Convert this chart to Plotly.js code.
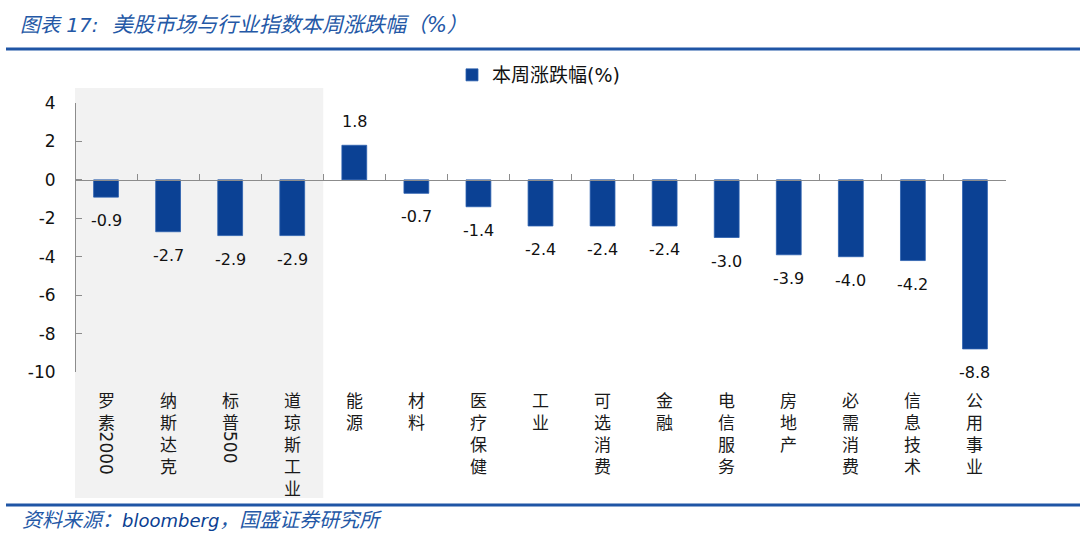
<!DOCTYPE html>
<html>
<head>
<meta charset="utf-8">
<script src="https://cdn.plot.ly/plotly-3.0.1.min.js"></script>
<style>html,body{margin:0;padding:0;background:#fff;}#chart{width:1080px;height:551px;}</style>
</head>
<body>
<div id="chart"></div>
<script>
// ---- data ----
var categories = ['罗素2000','纳斯达克','标普500','道琼斯工业','能源','材料','医疗保健','工业','可选消费','金融','电信服务','房地产','必需消费','信息技术','公用事业'];
var weeklyChange = [-0.9,-2.7,-2.9,-2.9,1.8,-0.7,-1.4,-2.4,-2.4,-2.4,-3.0,-3.9,-4.0,-4.2,-8.8];
var yTickValues = [4,2,0,-2,-4,-6,-8,-10];
var seriesName = '本周涨跌幅(%)';
var indexCount = 4; // first four are broad market indices (shaded)
var titleLabel = '图表 17:';
var titleText = '美股市场与行业指数本周涨跌幅（%）';
var sourceLabel = '资料来源：';
var sourceName = 'bloomberg';
var sourceRest = '，国盛证券研究所';

// ---- layout constants ----
var W = 1080, H = 551;
var ML = 75, MR = 74, MT = 103, MB = 179;
var PW = W - ML - MR, PH = H - MT - MB;
function px2x(px){ return (px - ML) / PW; }
function px2y(py){ return (H - MB - py) / PH; }

var barColor = '#0B4194';
var axisColor = '#8c8c8c';
var cjk = '"Noto Sans CJK SC", sans-serif';
var latin = '"DejaVu Sans", "Noto Sans CJK SC", sans-serif';
var catFont = {family: cjk, size: 17, color: '#1a1a1a'};
var LABEL_TOP = 13, LINE = 22, DIGIT_W = 10.8;

function labelAnnotations(label){
  var parts = label.match(/[0-9]+|[^0-9]/g);
  var out = [], off = LABEL_TOP, buf = [];
  function flush(){
    if (buf.length){
      out.push({x: label, xref: 'x', y: 0, yref: 'paper', yanchor: 'top', xanchor: 'center',
        yshift: -off, text: buf.join('<br>'), showarrow: false, font: catFont});
      off += buf.length * LINE; buf = [];
    }
  }
  parts.forEach(function(p){
    if (/^[0-9]+$/.test(p)){
      flush();
      var len = p.length * DIGIT_W;
      out.push({x: label, xref: 'x', y: 0, yref: 'paper', yanchor: 'middle', xanchor: 'center',
        yshift: -(off + 2 + len / 2), text: p, textangle: 90, showarrow: false,
        font: {family: latin, size: 17, color: '#1a1a1a'}});
      off += len + 4;
    } else buf.push(p);
  });
  flush();
  return out;
}

var annotations = [];
categories.forEach(function(c){ annotations = annotations.concat(labelAnnotations(c)); });

// value labels
weeklyChange.forEach(function(v, i){
  annotations.push({x: categories[i], xref: 'x', y: v, yref: 'y',
    yanchor: v < 0 ? 'top' : 'bottom', xanchor: 'center', yshift: v < 0 ? -12 : 12,
    text: v.toFixed(1), showarrow: false, font: {family: latin, size: 16, color: '#111'}});
});

// source note
annotations.push({xref: 'paper', yref: 'paper', x: px2x(20), y: px2y(520), xanchor: 'left', yanchor: 'middle',
  text: '<i>' + sourceLabel + '<span style="color:#0B3F92;font-size:18px">' + sourceName + '</span>' + sourceRest + '</i>',
  showarrow: false, font: {family: latin, size: 20, color: '#2458A6'}});

var trace = {
  type: 'bar', name: seriesName, x: categories, y: weeklyChange,
  marker: {color: barColor, line: {color: '#2B5FAE', width: 0.8}},
  hoverinfo: 'x+y', showlegend: true
};

var layout = {
  width: W, height: H,
  margin: {l: ML, r: MR, t: MT, b: MB, pad: 0},
  paper_bgcolor: '#fff', plot_bgcolor: 'rgba(0,0,0,0)',
  bargap: 0.6,
  title: {text: '<i><span style="font-size:20px">' + titleLabel + '</span>&nbsp; ' + titleText + '</i>',
    x: 20 / W, xref: 'container', xanchor: 'left',
    y: 1 - 25 / H, yref: 'container', yanchor: 'middle',
    font: {family: latin, size: 21, color: '#2458A6'}},
  xaxis: {type: 'category', anchor: 'free', position: 10 / 14,
    range: [-0.5, categories.length - 0.5],
    showline: true, linecolor: axisColor, linewidth: 1,
    ticks: 'inside', tickson: 'boundaries', ticklen: 6, tickcolor: axisColor, tickwidth: 1,
    showticklabels: false, showgrid: false, zeroline: false, fixedrange: true},
  yaxis: {anchor: 'free', position: 0, range: [-10, 4], tickvals: yTickValues,
    ticktext: yTickValues.map(String),
    showline: true, linecolor: axisColor, linewidth: 1,
    ticks: 'inside', ticklen: 6, tickcolor: axisColor, tickwidth: 1,
    ticklabelstandoff: 16,
    tickfont: {family: latin, size: 17, color: '#111'},
    showgrid: false, zeroline: false, fixedrange: true},
  legend: {orientation: 'h', x: px2x(452), y: px2y(75), xanchor: 'left', yanchor: 'middle',
    bgcolor: 'rgba(0,0,0,0)', font: {family: latin, size: 19, color: '#111'}},
  shapes: [
    {type: 'rect', xref: 'paper', yref: 'paper', x0: 0, x1: indexCount / categories.length,
      y0: px2y(498), y1: px2y(88), fillcolor: '#f2f2f2', line: {width: 0}, layer: 'below'},
    {type: 'line', xref: 'paper', yref: 'paper', x0: px2x(6), x1: px2x(1080),
      y0: px2y(49), y1: px2y(49), line: {color: '#1F55A5', width: 3}},
    {type: 'line', xref: 'paper', yref: 'paper', x0: px2x(6), x1: px2x(1080),
      y0: px2y(505), y1: px2y(505), line: {color: '#1F55A5', width: 3}}
  ],
  annotations: annotations
};

Plotly.newPlot('chart', [trace], layout, {displayModeBar: false, staticPlot: true});
</script>
</body>
</html>
